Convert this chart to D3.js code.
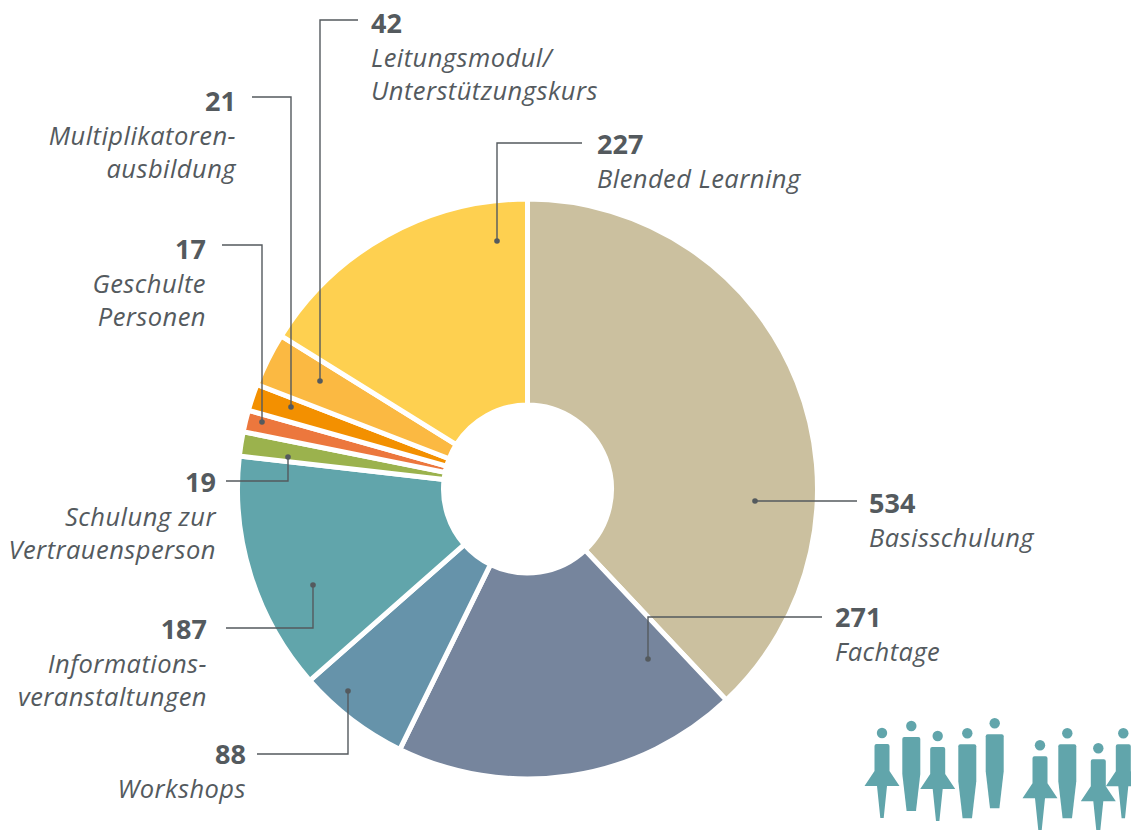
<!DOCTYPE html>
<html>
<head>
<meta charset="utf-8">
<script src="https://cdn.jsdelivr.net/npm/d3@7"></script>
<style>
  html, body { margin: 0; background: #fff; overflow: hidden; }
  text { font-family: "Open Sans", sans-serif; fill: #545a5e; }
  .num { font-size: 27px; font-weight: 700; }
  .name { font-size: 25.5px; font-style: italic; font-weight: 400; letter-spacing: 0.45px; }
</style>
</head>
<body>
<div id="chart"></div>
<script>
// Values
const categories = ['Basisschulung', 'Fachtage', 'Workshops', 'Informationsveranstaltungen',
  'Schulung zur Vertrauensperson', 'Geschulte Personen', 'Multiplikatorenausbildung',
  'Leitungsmodul/Unterstützungskurs', 'Blended Learning'];
const values = [534, 271, 88, 187, 19, 17, 21, 42, 227];
const colors = ['#cbc09f', '#76859d', '#6693aa', '#61a5ab', '#9bb24d', '#ec773d', '#f39000', '#fbb942', '#fed050'];
const labelLines = [['Basisschulung'], ['Fachtage'], ['Workshops'], ['Informations-', 'veranstaltungen'],
  ['Schulung zur', 'Vertrauensperson'], ['Geschulte', 'Personen'], ['Multiplikatoren-', 'ausbildung'],
  ['Leitungsmodul/', 'Unterstützungskurs'], ['Blended Learning']];

const svgWidth = 1131;
const svgHeight = 830;
const center = { x: 527.5, y: 489 };

// Annotation layout: leader line points (dot first), text x, number baseline, anchor
const leaders = [
  { pts: [[755, 501], [857, 501]], x: 869, y: 513, anchor: 'start' },
  { pts: [[648, 659], [648, 617], [822, 617]], x: 835, y: 627, anchor: 'start' },
  { pts: [[348, 691], [348, 754], [257, 754]], x: 246, y: 764, anchor: 'end' },
  { pts: [[313, 585], [313, 628], [226, 628]], x: 207, y: 639, anchor: 'end' },
  { pts: [[288, 457], [288, 481], [226, 481]], x: 216, y: 492, anchor: 'end' },
  { pts: [[262, 422], [262, 245], [222, 245]], x: 206, y: 259, anchor: 'end' },
  { pts: [[291, 407], [291, 97], [252, 97]], x: 236, y: 111, anchor: 'end' },
  { pts: [[320, 381], [320, 20], [358, 20]], x: 371, y: 33, anchor: 'start' },
  { pts: [[497, 241], [497, 143], [582, 143]], x: 597, y: 154, anchor: 'start' }
];

let svg = d3.select('#chart')
  .append('svg')
  .attr('width', svgWidth)
  .attr('height', svgHeight)
  .style('display', 'block');

// Donut
let pie = d3.pie().sort(null)(values);
let arc = d3.arc().innerRadius(84).outerRadius(290);

svg.append('g')
  .attr('transform', `translate(${center.x}, ${center.y})`)
  .selectAll('path')
  .data(pie)
  .enter()
  .append('path')
  .attr('d', arc)
  .attr('fill', (d, i) => colors[i])
  .attr('stroke', '#fff')
  .attr('stroke-width', 5);

// Leader lines and dots
let line = d3.line();
svg.append('g').selectAll('path')
  .data(leaders)
  .enter()
  .append('path')
  .attr('d', d => line(d.pts))
  .attr('fill', 'none')
  .attr('stroke', '#545a5e')
  .attr('stroke-width', 1.4);

svg.append('g').selectAll('circle')
  .data(leaders)
  .enter()
  .append('circle')
  .attr('cx', d => d.pts[0][0])
  .attr('cy', d => d.pts[0][1])
  .attr('r', 2.8)
  .attr('fill', '#545a5e');

// Labels
let labels = svg.append('g').selectAll('g')
  .data(leaders)
  .enter()
  .append('g')
  .attr('text-anchor', d => d.anchor);

labels.append('text')
  .attr('class', 'num')
  .attr('x', d => d.x)
  .attr('y', d => d.y)
  .text((d, i) => values[i]);

labels.each(function(d, i) {
  labelLines[i].forEach((t, j) => {
    d3.select(this).append('text')
      .attr('class', 'name')
      .attr('x', d.x)
      .attr('y', d.y + 34 + j * 33)
      .text(t);
  });
});

// People icons in the corner
const female = 'M-7.5,13 Q-7.5,11 -5.5,11 L5.5,11 Q7.5,11 7.5,13 L7.5,38 L17.5,53 L5,53 L1.7,85 L-1.7,85 L-5,53 L-17.5,53 L-7.5,38 Z';
const male = 'M-9,13 Q-9,11 -7,11 L7,11 Q9,11 9,13 L9,48 L4.7,85 L-4.7,85 L-9,48 Z';
const people = [
  { type: 'f', x: 882, y: 733 }, { type: 'm', x: 911.3, y: 726 }, { type: 'f', x: 937.7, y: 736 },
  { type: 'm', x: 967.3, y: 733.3 }, { type: 'm', x: 994.7, y: 723.3 }, { type: 'f', x: 1040, y: 745.3 },
  { type: 'm', x: 1067.3, y: 733.3 }, { type: 'f', x: 1098.3, y: 748.3 }, { type: 'f', x: 1123.3, y: 733.3 }
];

let person = svg.append('g').selectAll('g')
  .data(people)
  .enter()
  .append('g')
  .attr('transform', d => `translate(${d.x}, ${d.y})`)
  .attr('fill', '#61a5ab');

person.append('circle').attr('r', 5.2);
person.append('path').attr('d', d => d.type === 'f' ? female : male);
</script>
</body>
</html>
